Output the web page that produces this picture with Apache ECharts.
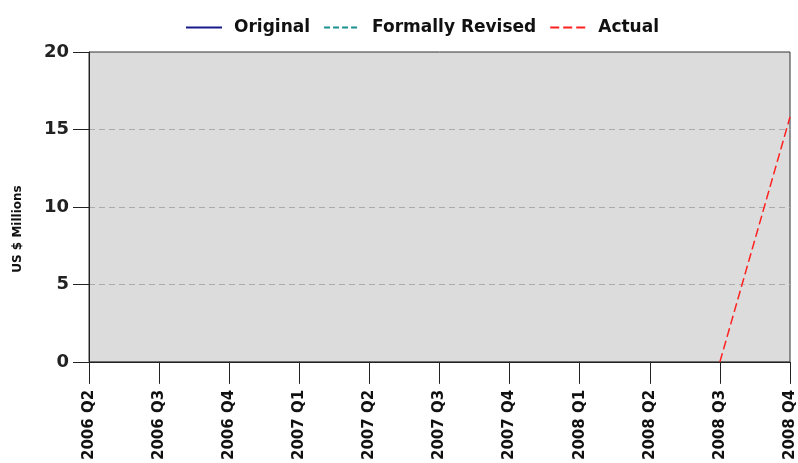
<!DOCTYPE html>
<html><head><meta charset="utf-8">
<script src="https://cdn.jsdelivr.net/npm/echarts@6/dist/echarts.min.js"></script>
<style>html,body{margin:0;padding:0;background:#fff}#c{width:798px;height:463px}</style>
</head><body><div id="c"></div>
<script>
const categories = ['2006 Q2','2006 Q3','2006 Q4','2007 Q1','2007 Q2','2007 Q3','2007 Q4','2008 Q1','2008 Q2','2008 Q3','2008 Q4'];
const original = ['-','-','-','-','-','-','-','-','-','-','-'];
const formallyRevised = ['-','-','-','-','-','-','-','-','-','-','-'];
const actual = ['-','-','-','-','-','-','-','-','-',0,15.8];
const yTicks = {min:0, max:20, interval:5};
const font = 'DejaVu Sans';
const chart = echarts.init(document.getElementById('c'), null, {renderer:'canvas'});
chart.setOption({
  animation:false,
  textStyle:{fontFamily:font},
  legend:{
    top:14, left:180, itemWidth:36, itemHeight:14, itemGap:13,
    itemStyle:{opacity:0, borderWidth:0},
    textStyle:{fontFamily:font, fontWeight:'bold', fontSize:17, color:'#111', padding:[0,0,0,7]},
    data:['Original','Formally Revised','Actual']
  },
  grid:{left:89, right:8, top:52, bottom:99, show:true, backgroundColor:'#dcdcdc', borderColor:'#333', borderWidth:1},
  graphic:[{type:'text', x:18, y:229, rotation:Math.PI/2,
    style:{text:'US $ Millions', font:'bold 12px "DejaVu Sans"', fill:'#111', textAlign:'center', textVerticalAlign:'middle'}}],
  xAxis:{
    type:'category', data:categories, boundaryGap:false,
    axisLine:{lineStyle:{color:'#222', width:1}},
    axisTick:{show:true, length:22, alignWithLabel:true, interval:0, lineStyle:{color:'#222'}},
    axisLabel:{rotate:90, fontFamily:font, fontWeight:'bold', fontSize:15, color:'#111', margin:28, interval:0},
    splitLine:{show:false}
  },
  yAxis:{
    type:'value', min:yTicks.min, max:yTicks.max, interval:yTicks.interval,
    axisLine:{show:true, lineStyle:{color:'#222', width:1}},
    axisTick:{show:true, length:16, lineStyle:{color:'#222'}},
    axisLabel:{fontFamily:font, fontWeight:'bold', fontSize:18, color:'#222', margin:20},
    splitLine:{show:true, showMinLine:false, showMaxLine:false, lineStyle:{color:'#ababab', type:[6,4], width:1}}
  },
  series:[
    {name:'Original', type:'line', data:original, symbol:'none', color:'#1a1a8c', lineStyle:{width:1.5, color:'#1a1a8c'}},
    {name:'Formally Revised', type:'line', data:formallyRevised, symbol:'none', color:'#1a9090', lineStyle:{width:1.5, type:[6,3], color:'#1a9090'}},
    {name:'Actual', type:'line', data:actual, symbol:'none', color:'#ff2020', lineStyle:{width:1.5, type:[9,4], color:'#ff2020'}}
  ]
});
</script></body></html>
